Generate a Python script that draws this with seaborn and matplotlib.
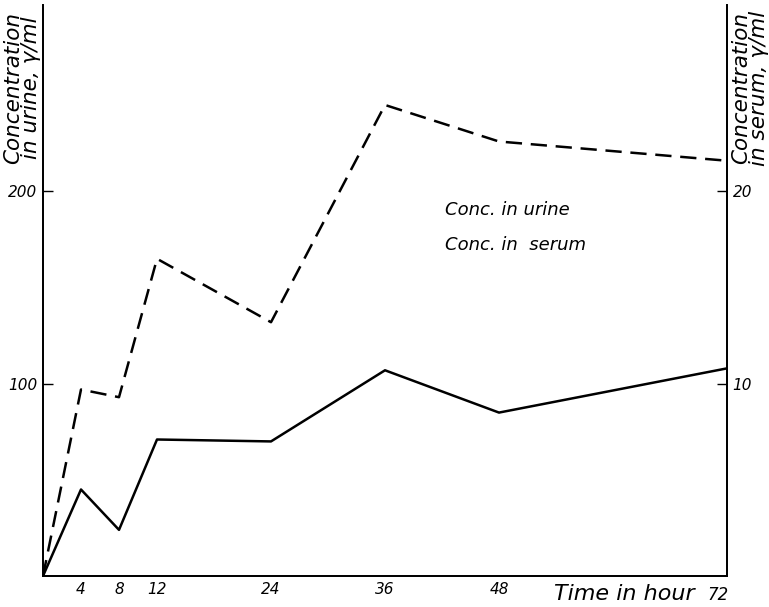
import matplotlib
matplotlib.use("Agg")
import matplotlib.pyplot as plt
import seaborn as sns
import pandas as pd

hours = [0, 4, 8, 12, 24, 36, 48, 72]
urine = [0, 97, 93, 165, 132, 245, 226, 216]
serum = [0, 4.5, 2.4, 7.1, 7.0, 10.7, 8.5, 10.8]
x_ticks = [4, 8, 12, 24, 36, 48]
x_tick_labels = ["4", "8", "12", "24", "36", "48"]
left_ticks = [100, 200]
right_ticks = [10, 20]

sns.set_style("white")
plt.rcParams['font.family'] = ['DejaVu Sans']
plt.rcParams['text.color'] = 'black'

df = pd.DataFrame({"hours": hours, "urine": urine, "serum": serum})

fig = plt.figure(figsize=(7.69, 6.07), dpi=100)
ax = fig.add_axes([43/769, 1-576/607, (727-43)/769, (576-5)/607])
ax2 = ax.twinx()

sns.lineplot(data=df, x="hours", y="urine", ax=ax, color="black", lw=1.8,
             linestyle=(0, (6.5, 3.5)))
sns.lineplot(data=df, x="hours", y="serum", ax=ax2, color="black", lw=1.8)

ax.set_xlim(0, 72)
ax.set_ylim(0, 297)
ax2.set_ylim(0, 29.7)

for a in (ax, ax2):
    a.spines['top'].set_visible(False)
    for s in ('left', 'right', 'bottom'):
        a.spines[s].set_color('black')
        a.spines[s].set_linewidth(1.3)
    a.set_xlabel("")
    a.set_ylabel("")

ax.set_xticks(x_ticks)
ax.set_xticklabels(x_tick_labels, fontstyle='italic', fontsize=11)
ax.set_yticks(left_ticks)
ax.set_yticklabels([str(v) for v in left_ticks], fontstyle='italic', fontsize=11)
ax2.set_yticks(right_ticks)
ax2.set_yticklabels([str(v) for v in right_ticks], fontstyle='italic', fontsize=11)
ax.tick_params(axis='both', direction='in', length=7, width=1, colors='black',
               labelcolor='black', pad=4)
ax2.tick_params(axis='y', direction='in', length=7, width=1, colors='black',
                labelcolor='black', pad=4)

fig.text(718/769, 1-595/607, "72", fontstyle='italic', fontsize=12, ha='center', va='center', color='black')
fig.text(624/769, 1-594/607, "Time in hour", fontstyle='italic', fontsize=16, ha='center', va='center', color='black')

fig.text(22/769, 1-88/607, "Concentration\nin urine, γ/ml", rotation=90, fontstyle='italic',
         fontsize=15.5, ha='center', va='center', linespacing=0.85, color='black')
fig.text(750/769, 1-88/607, "Concentration\nin serum, γ/ml", rotation=90, fontstyle='italic',
         fontsize=15.5, ha='center', va='center', linespacing=0.85, color='black')

fig.text(445/769, 1-210/607, "Conc. in urine", fontstyle='italic', fontsize=13, ha='left', va='center', color='black')
fig.text(445/769, 1-245/607, "Conc. in  serum", fontstyle='italic', fontsize=13, ha='left', va='center', color='black')

fig.savefig("out.png", dpi=100, facecolor='white')
